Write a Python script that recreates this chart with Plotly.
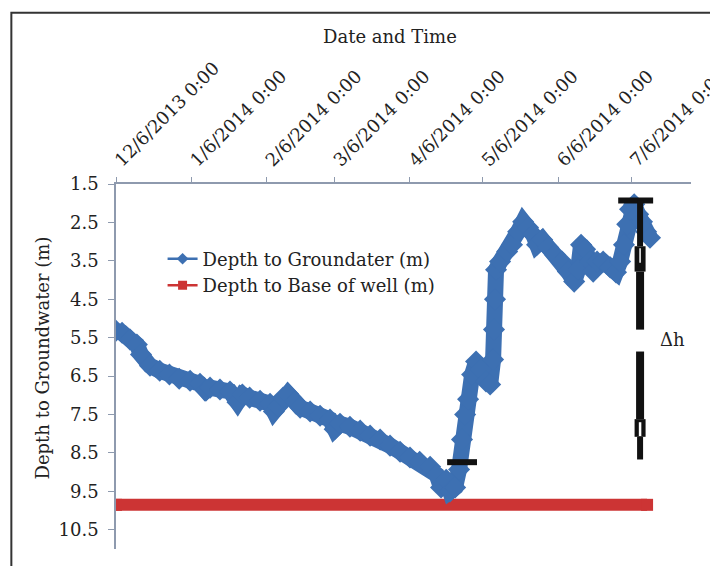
import plotly.graph_objects as go

# ---------------- data ----------------
gw_dates = [
    "2013-12-06 00:00", "2013-12-08 12:00", "2013-12-11 19:00", "2013-12-14 14:00",
    "2013-12-16 07:00", "2013-12-20 00:00", "2013-12-24 00:00", "2013-12-28 00:00",
    "2014-01-01 00:00", "2014-01-05 12:00", "2014-01-09 14:00", "2014-01-12 00:00",
    "2014-01-13 17:00", "2014-01-17 19:00", "2014-01-21 22:00", "2014-01-25 00:00",
    "2014-01-27 00:00", "2014-01-30 00:00", "2014-02-03 07:00", "2014-02-07 10:00",
    "2014-02-09 00:00", "2014-02-10 17:00", "2014-02-12 19:00", "2014-02-14 19:00",
    "2014-02-17 17:00", "2014-02-19 19:00", "2014-02-23 22:00", "2014-02-28 00:00",
    "2014-03-04 02:00", "2014-03-06 00:00", "2014-03-08 05:00", "2014-03-12 07:00",
    "2014-03-16 12:00", "2014-03-20 14:00", "2014-03-24 17:00", "2014-03-28 19:00",
    "2014-04-01 22:00", "2014-04-06 00:00", "2014-04-10 00:00", "2014-04-14 07:00",
    "2014-04-17 00:00", "2014-04-18 19:00", "2014-04-20 22:00", "2014-04-22 12:00",
    "2014-04-24 14:00", "2014-04-26 05:00", "2014-04-27 10:00", "2014-04-28 17:00",
    "2014-04-29 22:00", "2014-05-01 14:00", "2014-05-03 05:00", "2014-05-05 07:00",
    "2014-05-07 07:00", "2014-05-09 00:00", "2014-05-10 05:00", "2014-05-10 14:00",
    "2014-05-11 00:00", "2014-05-11 10:00", "2014-05-13 02:00", "2014-05-16 00:00",
    "2014-05-18 00:00", "2014-05-20 12:00", "2014-05-22 14:00", "2014-05-24 14:00",
    "2014-05-26 17:00", "2014-05-28 07:00", "2014-05-30 10:00", "2014-06-01 22:00",
    "2014-06-04 17:00", "2014-06-07 14:00", "2014-06-10 00:00", "2014-06-12 14:00",
    "2014-06-14 05:00", "2014-06-15 10:00", "2014-06-17 02:00", "2014-06-19 02:00",
    "2014-06-20 10:00", "2014-06-22 00:00", "2014-06-24 12:00", "2014-06-27 10:00",
    "2014-06-29 19:00", "2014-07-01 12:00", "2014-07-03 02:00", "2014-07-04 10:00",
    "2014-07-05 14:00", "2014-07-07 07:00", "2014-07-08 22:00", "2014-07-10 12:00",
    "2014-07-12 05:00", "2014-07-13 19:00",
]
gw_depth = [
    5.32, 5.37, 5.55, 5.68,
    5.94, 6.23, 6.36, 6.46,
    6.57, 6.62, 6.70, 6.88,
    6.80, 6.85, 6.90, 7.18,
    6.98, 7.06, 7.14, 7.22,
    7.42, 7.29, 7.06, 6.96,
    7.16, 7.32, 7.42, 7.53,
    7.63, 7.88, 7.74, 7.82,
    7.92, 8.05, 8.15, 8.31,
    8.47, 8.62, 8.73, 8.86,
    9.07, 9.40, 9.20, 9.50,
    9.40, 8.93, 8.15, 7.50,
    7.10, 6.46, 6.12, 6.33,
    6.64, 6.72, 6.07, 5.29,
    4.50, 3.73, 3.52, 3.26,
    3.08, 2.74, 2.48, 2.63,
    2.82, 3.08, 2.95, 3.15,
    3.34, 3.52, 3.78, 4.04,
    3.73, 3.08, 3.20, 3.52,
    3.78, 3.52, 3.52, 3.67,
    3.80, 3.52, 3.08, 2.55,
    2.16, 2.03, 2.29, 2.48,
    2.74, 2.90,
]
base_dates = ["2013-12-06 00:00", "2014-07-12 14:00"]
base_depth = [9.85, 9.85]

x_tick_vals = ["2013-12-06", "2014-01-06", "2014-02-06", "2014-03-06",
               "2014-04-06", "2014-05-06", "2014-06-06", "2014-07-06"]
x_tick_text = ["12/6/2013 0:00", "1/6/2014 0:00", "2/6/2014 0:00", "3/6/2014 0:00",
               "4/6/2014 0:00", "5/6/2014 0:00", "6/6/2014 0:00", "7/6/2014 0:00"]
y_tick_vals = [1.5, 2.5, 3.5, 4.5, 5.5, 6.5, 7.5, 8.5, 9.5, 10.5]
y_tick_text = ["1.5", "2.5", "3.5", "4.5", "5.5", "6.5", "7.5", "8.5", "9.5", "10.5"]

# annotation marks (low level bar, high level bar, delta-h arrow)
low_bar_dates = ["2014-04-21 07:00", "2014-05-03 14:00"]
low_bar_depth = 8.74
high_bar_dates = ["2014-06-30 17:00", "2014-07-15 02:00"]
high_bar_depth = 1.93
arrow_date = "2014-07-09 17:00"
arrow_upper = [1.93, 5.29]
arrow_lower = [5.86, 8.67]
delta_label_depth = 5.55

FONT = "DejaVu Serif"
BLUE = "#3d70b2"
RED = "#cc3434"
AXIS = "#8e9aae"

fig = go.Figure()

fig.add_trace(go.Scatter(
    x=base_dates, y=base_depth, mode="lines+markers",
    line=dict(color=RED, width=12),
    marker=dict(symbol="square", size=12, color=RED),
    showlegend=False, hoverinfo="skip"))

fig.add_trace(go.Scatter(
    x=gw_dates, y=gw_depth, mode="lines+markers",
    line=dict(color=BLUE, width=16),
    marker=dict(symbol="diamond", size=17, color=BLUE),
    showlegend=False, hoverinfo="skip"))

# legend entries
fig.add_trace(go.Scatter(
    x=[None], y=[None], mode="lines+markers", name="Depth to Groundater (m)",
    line=dict(color=BLUE, width=2.5),
    marker=dict(symbol="diamond", size=9, color=BLUE)))
fig.add_trace(go.Scatter(
    x=[None], y=[None], mode="lines+markers", name="Depth to Base of well (m)",
    line=dict(color=RED, width=2.5),
    marker=dict(symbol="square", size=9, color=RED)))

shapes = []
# outer frame
shapes.append(dict(type="rect", xref="paper", yref="paper",
                   x0=-0.182, x1=1.3, y0=-0.3, y1=1.469,
                   line=dict(color="#333333", width=2), layer="below"))
# bars
shapes.append(dict(type="line", xref="x", yref="y",
                   x0=low_bar_dates[0], x1=low_bar_dates[1],
                   y0=low_bar_depth, y1=low_bar_depth,
                   line=dict(color="#111111", width=6)))
shapes.append(dict(type="line", xref="x", yref="y",
                   x0=high_bar_dates[0], x1=high_bar_dates[1],
                   y0=high_bar_depth, y1=high_bar_depth,
                   line=dict(color="#111111", width=6)))


def vseg(y0, y1, w, c="#111111"):
    shapes.append(dict(type="line", xref="x", yref="y",
                       x0=arrow_date, x1=arrow_date, y0=y0, y1=y1,
                       line=dict(color=c, width=w)))


# delta-h arrow shaft
vseg(arrow_upper[0], 3.12, 6)
vseg(3.12, 3.78, 11)
vseg(3.78, arrow_upper[1], 8)
vseg(3.17, 3.55, 1.5, "#ffffff")
vseg(arrow_lower[0], 7.62, 8)
vseg(7.62, 8.08, 11)
vseg(8.08, arrow_lower[1], 6)
vseg(7.70, 8.06, 2.5, "#ffffff")

# page body has an 8px margin, so the figure is 8px smaller than the window
fig.update_layout(
    width=710, height=558,
    margin=dict(l=108, r=27, t=176, b=17),
    paper_bgcolor="white", plot_bgcolor="white",
    font=dict(family=FONT, size=18, color="#222222"),
    shapes=shapes,
    showlegend=True,
    legend=dict(x=0.081, y=0.845, xanchor="left", yanchor="top",
                bgcolor="rgba(0,0,0,0)", font=dict(family=FONT, size=18, color="#222222"),
                itemwidth=30, tracegroupgap=0),
    xaxis=dict(
        type="date", side="top", automargin=False,
        range=["2013-12-06 00:00", "2014-07-30 16:00"],
        tickmode="array", tickvals=x_tick_vals, ticktext=x_tick_text,
        tickangle=-45, ticks="outside", ticklen=5, tickcolor=AXIS,
        ticklabeloverflow="allow",
        showline=True, linecolor=AXIS, linewidth=1.5,
        showgrid=False, zeroline=False,
        tickfont=dict(family=FONT, size=18, color="#222222"),
    ),
    yaxis=dict(
        range=[11.0, 1.5], automargin=False,
        tickmode="array", tickvals=y_tick_vals, ticktext=y_tick_text,
        ticks="outside", ticklen=6, tickcolor=AXIS,
        ticklabelstandoff=6,
        showline=True, linecolor=AXIS, linewidth=1.5,
        showgrid=False, zeroline=False,
        tickfont=dict(family=FONT, size=18, color="#222222"),
    ),
    annotations=[
        dict(text="Date and Time", xref="paper", yref="paper",
             x=0.4765, y=1.405, xanchor="center", yanchor="middle",
             showarrow=False, font=dict(family=FONT, size=18, color="#222222")),
        dict(text="Depth to Groundwater (m)", xref="paper", yref="paper",
             x=-0.1287, y=0.5247, xanchor="center", yanchor="middle",
             textangle=-90, showarrow=False,
             font=dict(family=FONT, size=18, color="#222222")),
        dict(text="Δh", xref="paper", yref="y",
             x=0.967, y=delta_label_depth, xanchor="center", yanchor="middle",
             showarrow=False, font=dict(family=FONT, size=18, color="#222222")),
    ],
)

fig.write_html("out.html")
